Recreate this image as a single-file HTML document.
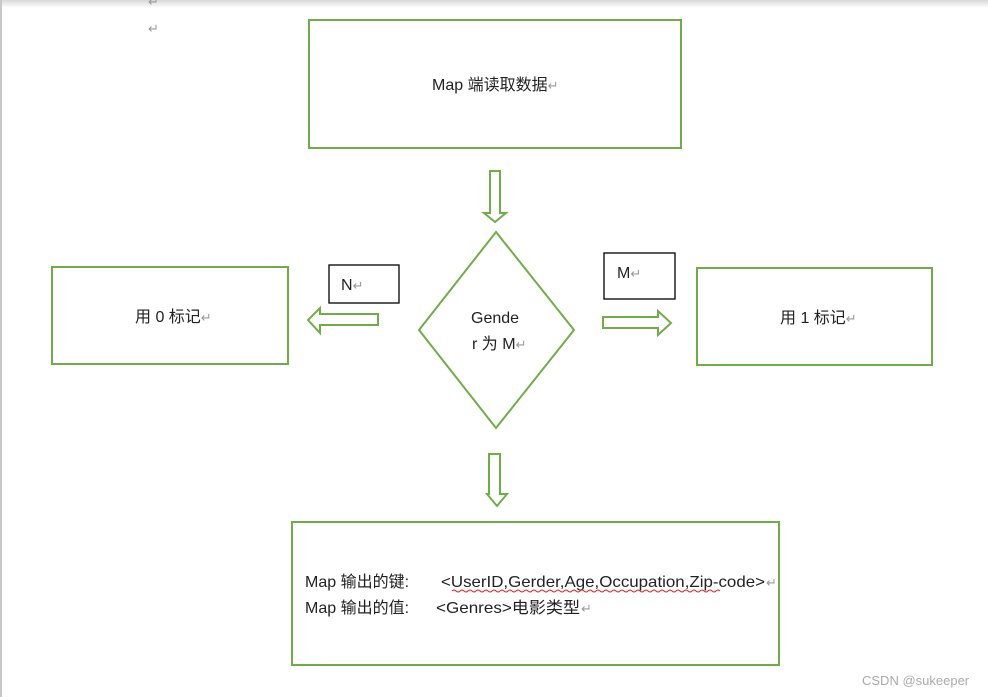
<!DOCTYPE html>
<html><head><meta charset="utf-8"><style>
html,body{margin:0;padding:0;background:#fff;}
svg{display:block;}
text{font-family:"Liberation Sans","Noto Sans CJK SC",sans-serif;fill:#222;font-size:16px;}
.r{fill:#999;font-size:13px;}
</style></head><body>
<svg width="988" height="697" viewBox="0 0 988 697" xmlns="http://www.w3.org/2000/svg">
<defs><linearGradient id="g" x1="0" y1="0" x2="0" y2="1"><stop offset="0" stop-color="#d8d8d8"/><stop offset="1" stop-color="#fff"/></linearGradient></defs>
<rect x="0" y="0" width="988" height="8" fill="url(#g)"/>
<line x1="1" y1="0" x2="1" y2="697" stroke="#c8c8c8" stroke-width="2"/>
<text x="148" y="6" class="r">↵</text>
<text x="148" y="33" class="r">↵</text>
<g fill="#fff" stroke="#70ad47" stroke-width="2">
<rect x="309" y="20" width="372" height="128"/>
<polygon points="490,171 500,171 500,213 506,213 495,222 484,213 490,213"/>
<polygon points="496,232 574,330 496,428 419,330"/>
<polygon points="378,314 378,325 320,325 320,333 308,320 320,308 320,314"/>
<polygon points="603,317 658,317 658,311 671,323 658,335 658,328 603,328"/>
<rect x="52" y="267" width="236" height="97"/>
<rect x="697" y="268" width="235" height="97"/>
<polygon points="489,454 500,454 500,494 507,494 497,506 487,494 489,494"/>
<rect x="292" y="522" width="487" height="143"/>
</g>
<rect x="329" y="265" width="70" height="38" fill="#fff" stroke="#000" stroke-width="1.3"/>
<rect x="604" y="253" width="71" height="46" fill="#fff" stroke="#000" stroke-width="1.3"/>
<text x="432" y="90">Map 端读取数据<tspan class="r">↵</tspan></text>
<text x="341" y="290">N<tspan class="r">↵</tspan></text>
<text x="617" y="278">M<tspan class="r">↵</tspan></text>
<text x="471" y="323">Gende</text>
<text x="472" y="349">r 为 M<tspan class="r">↵</tspan></text>
<text x="135" y="322">用 0 标记<tspan class="r">↵</tspan></text>
<text x="780" y="323">用 1 标记<tspan class="r">↵</tspan></text>
<text x="305" y="587">Map 输出的键:</text>
<text x="441" y="587" textLength="324" lengthAdjust="spacingAndGlyphs">&lt;UserID,Gerder,Age,Occupation,Zip-code&gt;</text>
<text x="766" y="587" class="r">↵</text>
<path d="M452,591 q2,-2 4,0 t4,0 t4,0 t4,0 t4,0 t4,0 t4,0 t4,0 t4,0 t4,0 t4,0 t4,0 t4,0 t4,0 t4,0 t4,0 t4,0 t4,0 t4,0 t4,0 t4,0 t4,0 t4,0 t4,0 t4,0 t4,0 t4,0 t4,0 t4,0 t4,0 t4,0 t4,0 t4,0 t4,0 t4,0 t4,0 t4,0 t4,0 t4,0 t4,0 t4,0 t4,0 t4,0 t4,0 t4,0 t4,0 t4,0 t4,0 t4,0 t4,0 t4,0 t4,0 t4,0 t4,0 t4,0 t4,0 t4,0 t4,0 t4,0 t4,0 t4,0 t4,0 t4,0 t4,0 t4,0 t4,0 t4,0" fill="none" stroke="#e02020" stroke-width="1"/>
<text x="305" y="613">Map 输出的值:</text>
<text x="436" y="613" textLength="144" lengthAdjust="spacingAndGlyphs">&lt;Genres&gt;电影类型</text>
<text x="581" y="613" class="r">↵</text>
<text x="862" y="685" style="fill:#aaa;font-size:13px">CSDN @sukeeper</text>
</svg>
</body></html>
